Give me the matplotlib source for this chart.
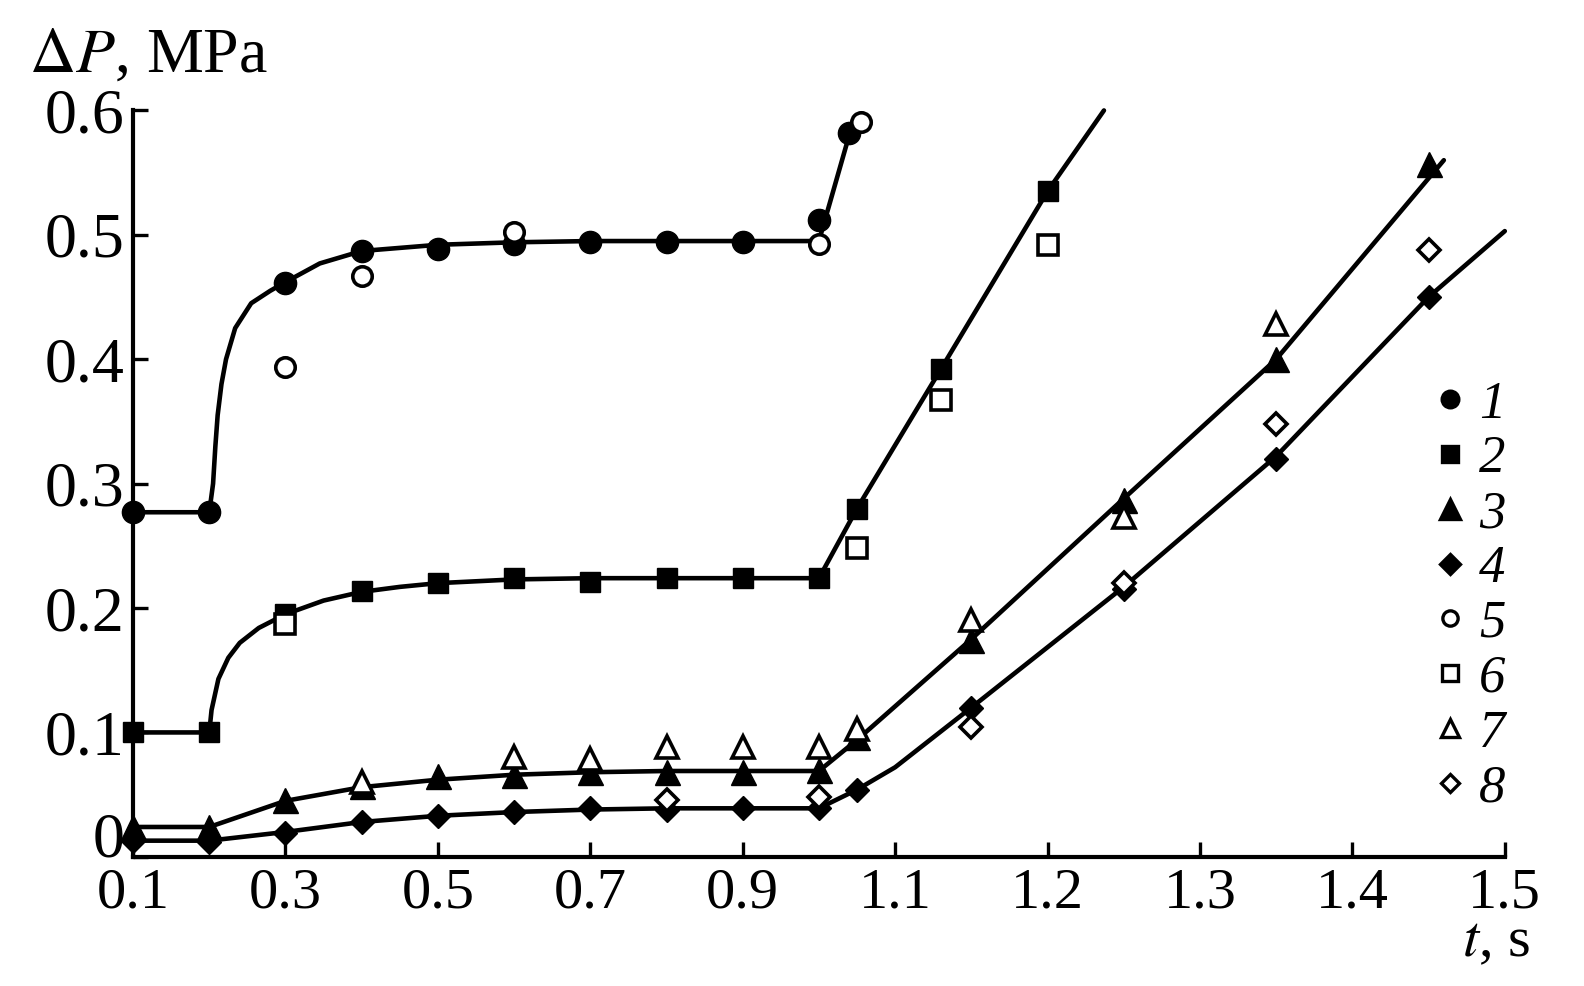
import numpy as np
import matplotlib
matplotlib.use("Agg")
import matplotlib.pyplot as plt
from matplotlib.lines import Line2D

plt.rcParams['font.family'] = ['Liberation Serif', 'DejaVu Serif']
plt.rcParams['mathtext.fontset'] = 'stix'

# measured points, t in s, dP in MPa
t1 = [0.1, 0.2, 0.3, 0.4, 0.5, 0.6, 0.7, 0.8, 0.9, 1.0, 1.04]
p1 = [0.277, 0.277, 0.461, 0.487, 0.489, 0.493, 0.494, 0.494, 0.494, 0.512, 0.582]
t5 = [0.3, 0.4, 0.6, 1.0, 1.055]
p5 = [0.394, 0.467, 0.502, 0.493, 0.591]

t2 = [0.1, 0.2, 0.3, 0.4, 0.5, 0.6, 0.7, 0.8, 0.9, 1.0, 1.05, 1.13, 1.2]
p2 = [0.1, 0.1, 0.195, 0.214, 0.22, 0.224, 0.221, 0.224, 0.224, 0.224, 0.28, 0.392, 0.535]
t6 = [0.3, 1.05, 1.13, 1.2]
p6 = [0.187, 0.248, 0.367, 0.492]

t3 = [0.1, 0.2, 0.3, 0.4, 0.5, 0.6, 0.7, 0.8, 0.9, 1.0, 1.05, 1.15, 1.25, 1.35, 1.45]
p3 = [0.024, 0.024, 0.046, 0.057, 0.065, 0.066, 0.068, 0.068, 0.068, 0.07, 0.096, 0.174, 0.287, 0.4, 0.557]
t7 = [0.4, 0.6, 0.7, 0.8, 0.9, 1.0, 1.05, 1.15, 1.25, 1.35]
p7 = [0.06, 0.08, 0.079, 0.088, 0.088, 0.088, 0.103, 0.19, 0.273, 0.428]

t4 = [0.1, 0.2, 0.3, 0.4, 0.5, 0.6, 0.7, 0.8, 0.9, 1.0, 1.05, 1.15, 1.25, 1.35, 1.45]
p4 = [0.013, 0.012, 0.019, 0.028, 0.033, 0.036, 0.039, 0.038, 0.039, 0.039, 0.054, 0.12, 0.215, 0.32, 0.45]
t8 = [0.8, 1.0, 1.15, 1.25, 1.35, 1.45]
p8 = [0.046, 0.048, 0.104, 0.22, 0.348, 0.488]

# fitted curves
f1_t = [0.1, 0.2, 0.205, 0.208, 0.211, 0.216, 0.222, 0.234, 0.255, 0.28, 0.3, 0.345, 0.4, 0.5, 0.6, 0.7, 1.0, 1.042]
f1_p = [0.277, 0.277, 0.3, 0.33, 0.355, 0.38, 0.4, 0.425, 0.445, 0.455, 0.462, 0.477, 0.487, 0.492, 0.494, 0.495, 0.495, 0.585]
f2_t = [0.1, 0.2, 0.203, 0.212, 0.225, 0.24, 0.265, 0.3, 0.35, 0.4, 0.45, 0.5, 0.6, 0.7, 1.0, 1.05, 1.13, 1.2, 1.237]
f2_p = [0.1, 0.1, 0.118, 0.143, 0.16, 0.172, 0.184, 0.195, 0.206, 0.213, 0.217, 0.22, 0.223, 0.224, 0.224, 0.28, 0.392, 0.535, 0.6]
f3_t = [0.1, 0.2, 0.3, 0.4, 0.5, 0.6, 0.7, 0.8, 1.0, 1.05, 1.15, 1.25, 1.35, 1.46]
f3_p = [0.024, 0.024, 0.045, 0.056, 0.062, 0.066, 0.068, 0.069, 0.069, 0.094, 0.175, 0.288, 0.4, 0.56]
f4_t = [0.1, 0.2, 0.3, 0.4, 0.5, 0.6, 0.7, 0.8, 1.0, 1.05, 1.1, 1.15, 1.25, 1.35, 1.45, 1.5]
f4_p = [0.013, 0.013, 0.02, 0.028, 0.033, 0.036, 0.038, 0.039, 0.039, 0.054, 0.072, 0.12, 0.217, 0.322, 0.45, 0.503]

xticks = [0.1, 0.3, 0.5, 0.7, 0.9, 1.1, 1.2, 1.3, 1.4, 1.5]
xlabels = ['0.1', '0.3', '0.5', '0.7', '0.9', '1.1', '1.2', '1.3', '1.4', '1.5']
yticks = [0, 0.1, 0.2, 0.3, 0.4, 0.5, 0.6]
ylabels = ['0', '0.1', '0.2', '0.3', '0.4', '0.5', '0.6']


# time axis is stretched 2x after 1.1 s
def fwd(t):
    t = np.asarray(t, dtype=float)
    return np.where(t <= 1.1, t, 1.1 + 2 * (t - 1.1))


def inv(u):
    u = np.asarray(u, dtype=float)
    return np.where(u <= 1.1, u, 1.1 + (u - 1.1) / 2)


fig = plt.figure(figsize=(15.84, 9.86), dpi=100)
ax = fig.add_axes([0.084, 0.131, 0.866, 0.757])
ax.set_xscale('function', functions=(fwd, inv))

for ft, fp in [(f1_t, f1_p), (f2_t, f2_p), (f3_t, f3_p), (f4_t, f4_p)]:
    ax.plot(ft, fp, color='black', lw=3.3, solid_capstyle='round', clip_on=False, zorder=2)

filled = dict(color='black', ls='none', clip_on=False, zorder=4)
hollow = dict(ls='none', mfc='white', mec='black', mew=2.6, clip_on=False, zorder=5)
ax.plot(t1, p1, marker='o', ms=16, **filled)
ax.plot(t2, p2, marker='s', ms=15, **filled)
ax.plot(t3, p3, marker='^', ms=18, **filled)
ax.plot(t4, p4, marker='D', ms=12.5, **filled)
ax.plot(t5, p5, marker='o', ms=14, **hollow)
ax.plot(t6, p6, marker='s', ms=14, **hollow)
ax.plot(t7, p7, marker='^', ms=16, **hollow)
ax.plot(t8, p8, marker='D', ms=11, **hollow)

ax.set_xlim(0.1, 1.5)
ax.set_ylim(0, 0.6)
ax.set_xticks(xticks)
ax.set_xticklabels(xlabels)
ax.set_yticks(yticks)
ax.set_yticklabels(ylabels)
ax.minorticks_off()
ax.tick_params(direction='in', length=11, width=2.4, colors='black')
ax.tick_params(axis='x', labelsize=42, pad=8)
ax.tick_params(axis='y', labelsize=46, pad=6)
ax.get_yticklabels()[0].set_verticalalignment('baseline')
for s in ['top', 'right']:
    ax.spines[s].set_visible(False)
for s in ['left', 'bottom']:
    ax.spines[s].set_linewidth(3)

fig.text(0.018, 0.927, r'$\Delta P$, MPa', fontsize=46, ha='left', va='baseline')
fig.text(0.966, 0.03, r'$t$, s', fontsize=42, ha='right', va='baseline')

markers = [('o', 'black', 12), ('s', 'black', 12), ('^', 'black', 14), ('D', 'black', 10),
           ('o', 'white', 11), ('s', 'white', 11), ('^', 'white', 13), ('D', 'white', 9)]
handles = [Line2D([], [], ls='none', marker=m, ms=ms, mfc=fc, mec='black', mew=2.4)
           for m, fc, ms in markers]
names = ['1', '2', '3', '4', '5', '6', '7', '8']
leg = fig.legend(handles, names, loc='center left', bbox_to_anchor=(0.887, 0.395),
                 frameon=False, handlelength=0.7, handletextpad=0.2, labelspacing=0.13,
                 borderpad=0, prop={'size': 38, 'style': 'italic'})

fig.savefig('out.png', dpi=100)
